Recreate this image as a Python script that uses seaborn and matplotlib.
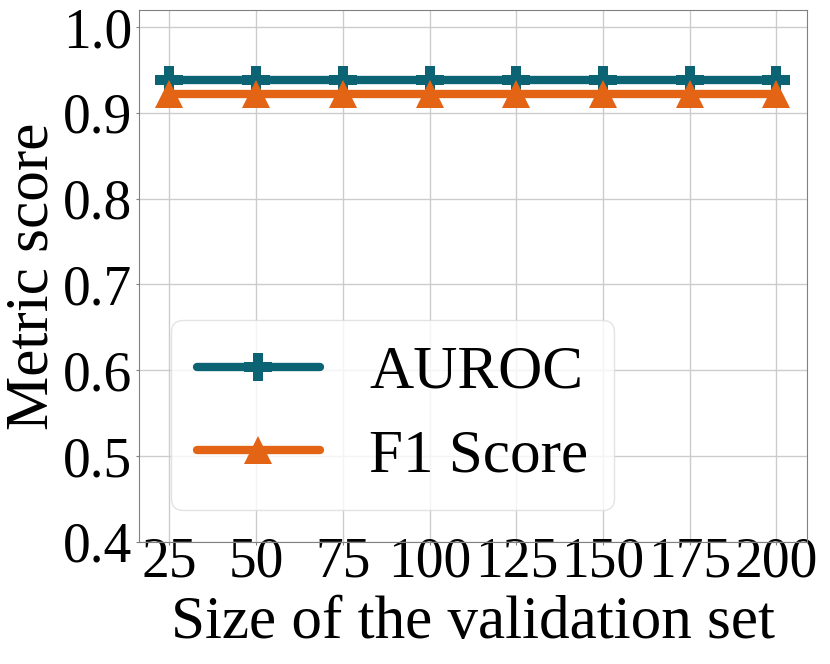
import numpy as np
import pandas as pd
import matplotlib
matplotlib.use("Agg")
import matplotlib.pyplot as plt
import seaborn as sns

# data
sizes = [25, 50, 75, 100, 125, 150, 175, 200]
auroc = [0.938, 0.938, 0.938, 0.938, 0.938, 0.938, 0.938, 0.938]
f1 = [0.922, 0.922, 0.922, 0.922, 0.922, 0.922, 0.922, 0.922]
yticks = [0.4, 0.5, 0.6, 0.7, 0.8, 0.9, 1.0]

df = pd.DataFrame({
    "size": sizes * 2,
    "score": auroc + f1,
    "metric": ["AUROC"] * len(sizes) + ["F1 Score"] * len(sizes),
})

sns.set_style("ticks")
plt.rcParams["font.family"] = ["Liberation Serif", "DejaVu Serif"]
plt.rcParams["text.color"] = "black"
plt.rcParams["axes.labelcolor"] = "black"
plt.rcParams["xtick.color"] = "black"
plt.rcParams["ytick.color"] = "black"

fig, ax = plt.subplots(figsize=(8.3, 6.64), dpi=100)
sns.lineplot(data=df, x="size", y="score", hue="metric", style="metric",
             palette=["#0b6374", "#e36414"], markers=["P", "^"], dashes=False,
             linewidth=6, markersize=20, markeredgewidth=0, ax=ax)

ax.set_ylim(0.4, 1.02)
ax.set_yticks(yticks)
ax.set_xticks(sizes)
ax.grid(True, color="#cccccc", linewidth=1)
ax.set_axisbelow(True)
for s in ax.spines.values():
    s.set_color("#808080")
ax.tick_params(labelsize=40, color="#808080", length=2)
ax.tick_params(axis="x", pad=-6)
ax.tick_params(axis="y", pad=3)
ax.set_xlabel("Size of the validation set", fontsize=44, labelpad=5)
ax.set_ylabel("Metric score", fontsize=44, labelpad=2)

leg = ax.legend(fontsize=44, loc="lower left", bbox_to_anchor=(0.048, 0.06),
                borderaxespad=0, handlelength=2.02, frameon=True, fancybox=True,
                framealpha=0.8, borderpad=0.42, labelspacing=0.45)
leg.get_frame().set_edgecolor("#dddddd")

fig.subplots_adjust(left=0.1675, right=0.972, top=0.985, bottom=0.184)
fig.savefig("out.png", dpi=100)
